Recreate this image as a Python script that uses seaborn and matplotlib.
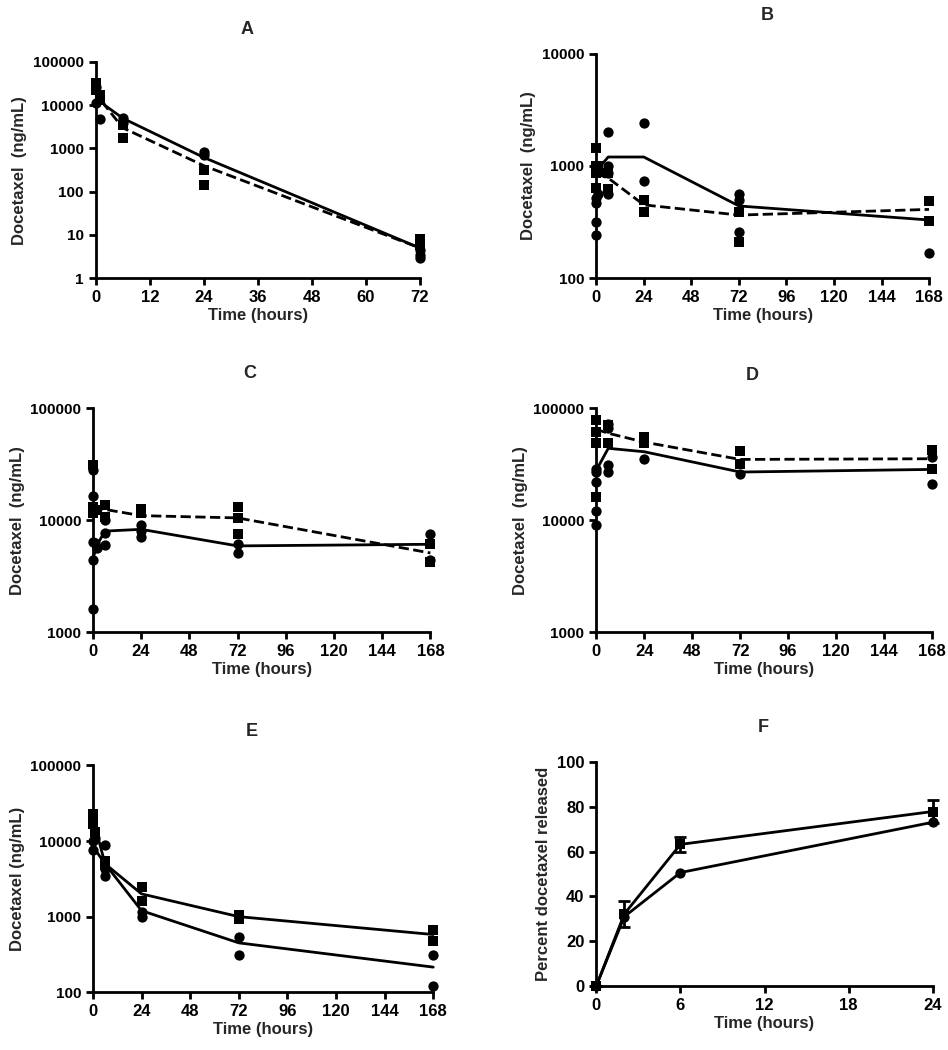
import numpy as np
import pandas as pd
import seaborn as sns
import matplotlib.pyplot as plt
from matplotlib.ticker import FixedLocator, NullLocator

sns.set_style("ticks")
plt.rcParams['font.family'] = ['Liberation Sans', 'DejaVu Sans']
plt.rcParams['font.weight'] = 'bold'

# ---- Panel A ----
a_circ_t = [0, 0, 1, 6, 6, 24, 24, 72, 72, 72]
a_circ_v = [27000, 11000, 4800, 5000, 3800, 850, 700, 4.5, 3.5, 3]
a_sq_t = [0, 0, 1, 1, 6, 6, 24, 24, 72, 72]
a_sq_v = [32000, 22000, 17000, 13000, 3500, 1750, 320, 145, 8, 6]
a_solid_t = [0, 2, 6, 24, 72]
a_solid_v = [22000, 10000, 5000, 620, 5]
a_dash_t = [0, 2, 6, 24, 72]
a_dash_v = [25000, 10000, 3000, 400, 5]

# ---- Panel B ----
b_circ_t = [0, 0, 0, 0, 1, 6, 6, 6, 6, 24, 24, 72, 72, 72, 168]
b_circ_v = [470, 245, 315, 520, 560, 1990, 1000, 870, 560, 2430, 735, 560, 500, 260, 167]
b_sq_t = [0, 0, 0, 0, 1, 1, 6, 6, 24, 24, 72, 72, 168, 168]
b_sq_v = [1450, 1000, 870, 640, 1000, 900, 870, 620, 500, 385, 385, 210, 490, 325]
b_solid_t = [0, 6, 24, 72, 168]
b_solid_v = [900, 1200, 1200, 440, 330]
b_dash_t = [0, 6, 24, 72, 168]
b_dash_v = [850, 780, 450, 365, 410]

# ---- Panel C ----
c_circ_t = [0, 0, 0, 0, 0, 1, 2, 6, 6, 6, 24, 24, 24, 72, 72, 168, 168]
c_circ_v = [28000, 16600, 6400, 4400, 1620, 6200, 5600, 7700, 6000, 10000,
            9000, 8100, 7100, 6100, 5100, 7600, 4400]
c_sq_t = [0, 0, 0, 2, 6, 6, 24, 24, 72, 72, 72, 168, 168]
c_sq_v = [31000, 13100, 11500, 12300, 13600, 10700, 12700, 11500,
          13100, 10400, 7600, 6100, 4200]
c_solid_t = [0, 2, 6, 24, 72, 168]
c_solid_v = [4500, 6000, 8000, 8300, 5900, 6100]
c_dash_t = [0, 6, 24, 72, 168]
c_dash_v = [13000, 12500, 11000, 10500, 5100]

# ---- Panel D ----
d_circ_t = [0, 0, 0, 0, 0, 6, 6, 6, 6, 24, 72, 168, 168]
d_circ_v = [9000, 12000, 22000, 27000, 29000, 73000, 67000, 31000, 27000,
            35000, 26000, 37000, 21000]
d_sq_t = [0, 0, 0, 0, 6, 6, 24, 24, 72, 72, 168, 168]
d_sq_v = [79000, 62000, 49000, 16000, 71000, 49000, 55000, 49000,
          42000, 32000, 42500, 28500]
d_solid_t = [0, 6, 24, 72, 168]
d_solid_v = [28000, 44000, 41000, 27000, 28500]
d_dash_t = [0, 6, 24, 72, 168]
d_dash_v = [65000, 60000, 50000, 35000, 35500]

# ---- Panel E ----
e_circ_t = [0, 0, 1, 6, 6, 6, 24, 24, 72, 72, 168, 168]
e_circ_v = [10000, 7500, 11000, 9000, 4300, 3500, 1140, 1000, 530, 315, 310, 122]
e_sq_t = [0, 0, 0, 1, 6, 6, 24, 24, 72, 72, 168, 168]
e_sq_v = [23000, 20000, 17000, 13000, 5500, 4800, 2450, 1630, 1060, 930, 665, 470]
e_sqline_t = [0, 6, 24, 72, 168]
e_sqline_v = [20000, 5000, 2000, 1000, 580]
e_circline_t = [0, 6, 24, 72, 168]
e_circline_v = [8500, 5000, 1200, 450, 215]

# ---- Panel F ----
f_t = [0, 2, 6, 24]
f_circ_v = [0, 31, 50.7, 73.2]
f_sq_v = [0, 32.2, 63.3, 78]
f_sq_err = [0, 6, 3.5, 5]

fig = plt.figure(figsize=(9.48, 10.5), dpi=100)


def make_ax(rect, title, title_xy):
    ax = fig.add_axes(rect)
    fig.text(title_xy[0] / 948, 1 - title_xy[1] / 1050, title, ha='center',
             va='center', fontsize=13, fontweight='bold')
    for s in ['top', 'right']:
        ax.spines[s].set_visible(False)
    for s in ['left', 'bottom']:
        ax.spines[s].set_linewidth(2)
        ax.spines[s].set_color('black')
    ax.tick_params(width=2, length=5, labelsize=11, colors='black')
    for lab in ax.get_xticklabels() + ax.get_yticklabels():
        lab.set_fontweight('bold')
    return ax


def log_axis(ax, lo, hi, xmax, xticks, ylabel):
    ax.set_yscale('log')
    ax.set_ylim(lo, hi)
    decs = [10 ** k for k in range(int(np.log10(lo)), int(np.log10(hi)) + 1)]
    ax.yaxis.set_major_locator(FixedLocator(decs))
    ax.yaxis.set_minor_locator(NullLocator())
    ax.set_yticklabels([str(d) for d in decs], fontweight='bold', fontsize=11)
    ax.set_xlim(0, xmax)
    ax.set_xticks(xticks)
    ax.set_xticklabels([str(t) for t in xticks], fontweight='bold', fontsize=12)
    ax.set_xlabel('Time (hours)', fontsize=12, fontweight='bold', labelpad=2)
    ax.set_ylabel(ylabel, fontsize=12, fontweight='bold')


def pts(ax, t, v, marker):
    df = pd.DataFrame({'t': t, 'v': v})
    sns.scatterplot(data=df, x='t', y='v', ax=ax, marker=marker, color='black',
                    s=55, edgecolor='black', linewidth=0, clip_on=False, zorder=4)


def line(ax, t, v, dashed=False):
    df = pd.DataFrame({'t': t, 'v': v})
    sns.lineplot(data=df, x='t', y='v', ax=ax, color='black', lw=2,
                 linestyle='--' if dashed else '-', clip_on=False, zorder=3)


ylab = 'Docetaxel  (ng/mL)'

# A
ax = make_ax([0.101, 0.735, 0.342, 0.206], 'A', (247, 30))
line(ax, a_solid_t, a_solid_v)
line(ax, a_dash_t, a_dash_v, dashed=True)
pts(ax, a_circ_t, a_circ_v, 'o')
pts(ax, a_sq_t, a_sq_v, 's')
log_axis(ax, 1, 100000, 72, [0, 12, 24, 36, 48, 60, 72], ylab)

# B
ax = make_ax([0.629, 0.735, 0.351, 0.214], 'B', (767, 15))
line(ax, b_solid_t, b_solid_v)
line(ax, b_dash_t, b_dash_v, dashed=True)
pts(ax, b_circ_t, b_circ_v, 'o')
pts(ax, b_sq_t, b_sq_v, 's')
log_axis(ax, 100, 10000, 168, [0, 24, 48, 72, 96, 120, 144, 168], ylab)

# C
ax = make_ax([0.098, 0.398, 0.356, 0.213], 'C', (250, 373))
line(ax, c_solid_t, c_solid_v)
line(ax, c_dash_t, c_dash_v, dashed=True)
pts(ax, c_circ_t, c_circ_v, 'o')
pts(ax, c_sq_t, c_sq_v, 's')
log_axis(ax, 1000, 100000, 168, [0, 24, 48, 72, 96, 120, 144, 168], ylab)

# D
ax = make_ax([0.629, 0.398, 0.354, 0.213], 'D', (752, 375))
line(ax, d_solid_t, d_solid_v)
line(ax, d_dash_t, d_dash_v, dashed=True)
pts(ax, d_circ_t, d_circ_v, 'o')
pts(ax, d_sq_t, d_sq_v, 's')
log_axis(ax, 1000, 100000, 168, [0, 24, 48, 72, 96, 120, 144, 168], ylab)

# E
ax = make_ax([0.098, 0.055, 0.359, 0.216], 'E', (252, 732))
line(ax, e_sqline_t, e_sqline_v)
line(ax, e_circline_t, e_circline_v)
pts(ax, e_circ_t, e_circ_v, 'o')
pts(ax, e_sq_t, e_sq_v, 's')
log_axis(ax, 100, 100000, 168, [0, 24, 48, 72, 96, 120, 144, 168],
         'Docetaxel (ng/mL)')

# F
ax = make_ax([0.629, 0.061, 0.355, 0.213], 'F', (763, 728))
line(ax, f_t, f_sq_v)
line(ax, f_t, f_circ_v)
ax.errorbar(f_t, f_sq_v, yerr=f_sq_err, fmt='none', ecolor='black',
            elinewidth=2, capsize=4, capthick=2, clip_on=False, zorder=3)
pts(ax, f_t, f_circ_v, 'o')
pts(ax, f_t, f_sq_v, 's')
ax.set_xlim(0, 24)
ax.set_ylim(0, 100)
ax.set_xticks([0, 6, 12, 18, 24])
ax.set_xticklabels(['0', '6', '12', '18', '24'], fontweight='bold', fontsize=12)
ax.set_yticks([0, 20, 40, 60, 80, 100])
ax.set_yticklabels(['0', '20', '40', '60', '80', '100'], fontweight='bold', fontsize=12)
ax.set_xlabel('Time (hours)', fontsize=12, fontweight='bold', labelpad=2)
ax.set_ylabel('Percent docetaxel released', fontsize=12, fontweight='bold')

fig.savefig('out.png', dpi=100)
